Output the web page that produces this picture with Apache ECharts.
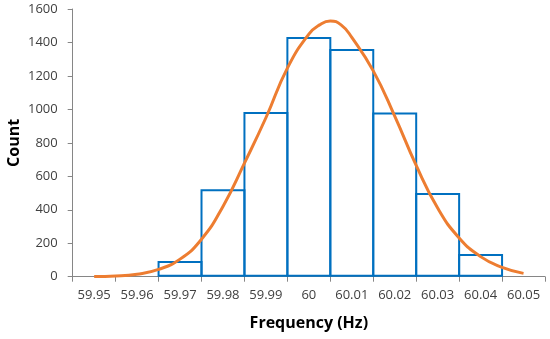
<!DOCTYPE html>
<html>
<head>
<meta charset="utf-8">
<script src="https://cdn.jsdelivr.net/npm/echarts@6/dist/echarts.min.js"></script>
<style>html,body{margin:0;padding:0;background:#fff}#c{width:550px;height:339px}</style>
</head>
<body>
<div id="c"></div>
<script>
const categories = ['59.95','59.96','59.97','59.98','59.99','60','60.01','60.02','60.03','60.04','60.05'];
const counts = [null, null, 94, 523, 984, 1433, 1361, 982, 501, 136, null];
const curveX = [59.950,59.955,59.960,59.965,59.970,59.975,59.980,59.985,59.990,59.995,60.000,60.0025,60.005,60.0075,60.010,60.015,60.020,60.025,60.030,60.035,60.040,60.045,60.050];
const curveY = [1,4,15,44,105,224,420,679,950,1247,1450,1505,1528,1505,1430,1230,960,665,410,232,120,56,20];
const yTicks = {min:0, max:1600, interval:200};

const chart = echarts.init(document.getElementById('c'), null, {renderer:'canvas'});
const font = 'Open Sans, Liberation Sans, sans-serif';
chart.setOption({
  animation:false,
  grid:{left:72.7, right:5, top:9, bottom:62.3, containLabel:false, outerBoundsMode:'none'},
  xAxis:[{
    type:'category', data:categories, boundaryGap:true,
    axisLine:{lineStyle:{color:'#868686', width:1}},
    axisTick:{show:true, inside:false, length:5, interval:0, lineStyle:{color:'#868686'}},
    axisLabel:{color:'#404040', fontSize:13, fontFamily:font, margin:12, interval:0},
    name:'Frequency (Hz)', nameLocation:'middle', nameGap:39,
    nameTextStyle:{fontSize:16, fontWeight:'bold', color:'#000', fontFamily:font}
  },{
    type:'value', min:59.945, max:60.055, show:false
  }],
  yAxis:{
    type:'value', min:yTicks.min, max:yTicks.max, interval:yTicks.interval,
    splitLine:{show:false},
    axisLine:{show:true, lineStyle:{color:'#868686', width:1}},
    axisTick:{show:true, inside:false, length:5, lineStyle:{color:'#868686'}},
    axisLabel:{color:'#404040', fontSize:13, fontFamily:font, margin:15, formatter:v=>String(v)},
    name:'Count', nameLocation:'middle', nameGap:50, nameMoveOverlap:false,
    nameTextStyle:{fontSize:16, fontWeight:'bold', color:'#000', fontFamily:font}
  },
  series:[{
    type:'bar', xAxisIndex:0, data:counts, barWidth:44.94, barCategoryGap:'0%',
    itemStyle:{color:'rgba(255,255,255,0)', borderColor:'#0070C0', borderWidth:2},
    z:2
  },{
    type:'line', xAxisIndex:1, data:curveX.map((x,i)=>[x,curveY[i]]),
    smooth:true, symbol:'none',
    lineStyle:{color:'#ED7D31', width:3},
    z:3
  }]
});
</script>
</body>
</html>
